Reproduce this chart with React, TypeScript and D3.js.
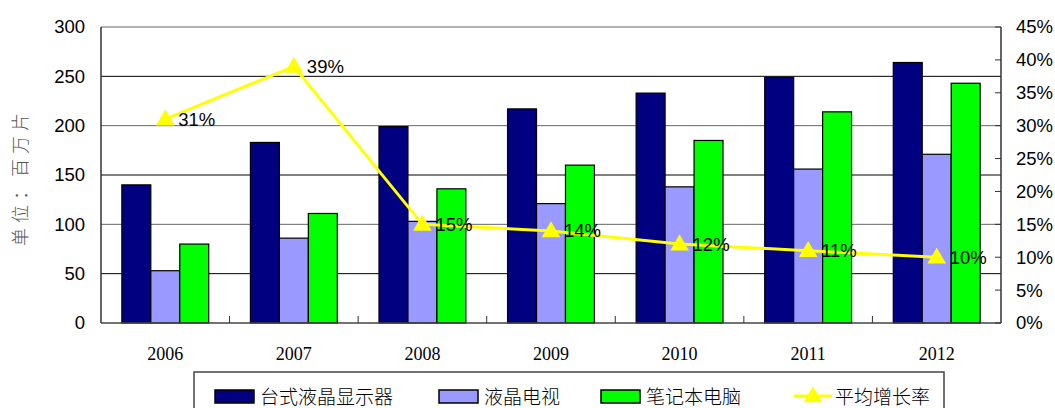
import React, { useEffect, useRef } from 'react';
import * as d3 from 'd3';

const years = ['2006', '2007', '2008', '2009', '2010', '2011', '2012'];
const seriesNames = ['台式液晶显示器', '液晶电视', '笔记本电脑'];
const desktopLcd = [140, 183, 199, 217, 233, 249, 264];
const lcdTv = [53, 86, 103, 121, 138, 156, 171];
const notebook = [80, 111, 136, 160, 185, 214, 243];
const growth = [31, 39, 15, 14, 12, 11, 10];
const lineName = '平均增长率';
const leftTicks = [0, 50, 100, 150, 200, 250, 300];
const rightTicks = [0, 5, 10, 15, 20, 25, 30, 35, 40, 45];

const colors = ['#000080', '#9999FF', '#00FF00'];

const App: React.FC = () => {
  const svgRef = useRef<SVGSVGElement>(null);

  useEffect(() => {
    if (!svgRef.current) return;
    const svg = d3.select(svgRef.current);
    svg.selectAll('*').remove();

    const left = 101, right = 1001, top = 27, bottom = 323;

    const x0 = d3.scaleBand().domain(years).range([left, right]).padding(0);
    const x1 = d3.scaleBand().domain(seriesNames).range([0, x0.bandwidth()])
      .paddingInner(0).paddingOuter(0.72);
    const y = d3.scaleLinear().domain([0, 300]).range([bottom, top]);
    const y2 = d3.scaleLinear().domain([0, 45]).range([bottom, top]);

    // gridlines
    svg.append('g').selectAll('line').data(leftTicks.slice(1)).enter().append('line')
      .attr('x1', left).attr('x2', right)
      .attr('y1', d => y(d)).attr('y2', d => y(d))
      .attr('stroke', (d, i) => (i % 2 === 0 ? '#000' : '#666'))
      .attr('stroke-width', 1);

    // bars
    const data = [desktopLcd, lcdTv, notebook];
    const bars = svg.append('g');
    years.forEach((yr, i) => {
      seriesNames.forEach((s, j) => {
        const v = data[j][i];
        bars.append('rect')
          .attr('x', (x0(yr) as number) + (x1(s) as number))
          .attr('y', y(v))
          .attr('width', x1.bandwidth())
          .attr('height', y(0) - y(v))
          .attr('fill', colors[j])
          .attr('stroke', '#000')
          .attr('stroke-width', 1.2);
      });
    });

    // axes lines
    svg.append('line').attr('x1', left).attr('x2', left).attr('y1', top).attr('y2', bottom)
      .attr('stroke', '#333').attr('stroke-width', 1.5);
    svg.append('line').attr('x1', right).attr('x2', right).attr('y1', top).attr('y2', bottom)
      .attr('stroke', '#333').attr('stroke-width', 1.5);
    svg.append('line').attr('x1', left).attr('x2', right).attr('y1', bottom).attr('y2', bottom)
      .attr('stroke', '#444').attr('stroke-width', 1.5);

    // right ticks
    svg.append('g').selectAll('line').data(rightTicks).enter().append('line')
      .attr('x1', right - 6).attr('x2', right)
      .attr('y1', d => y2(d)).attr('y2', d => y2(d))
      .attr('stroke', '#333');
    // bottom ticks
    svg.append('g').selectAll('line').data(years.slice(1)).enter().append('line')
      .attr('x1', d => x0(d) as number).attr('x2', d => x0(d) as number)
      .attr('y1', bottom - 7).attr('y2', bottom)
      .attr('stroke', '#333');

    // left labels
    svg.append('g').selectAll('text').data(leftTicks).enter().append('text')
      .attr('x', 85).attr('y', d => y(d)).attr('dy', '0.35em')
      .attr('text-anchor', 'end')
      .attr('font-family', 'Liberation Sans, Arial, sans-serif')
      .attr('font-size', 18.5).attr('fill', '#000')
      .text(d => String(d));
    // right labels
    svg.append('g').selectAll('text').data(rightTicks).enter().append('text')
      .attr('x', 1016).attr('y', d => y2(d)).attr('dy', '0.35em')
      .attr('font-family', 'Liberation Sans, Arial, sans-serif')
      .attr('font-size', 18.5).attr('fill', '#000')
      .text(d => `${d}%`);
    // x labels
    svg.append('g').selectAll('text').data(years).enter().append('text')
      .attr('x', d => (x0(d) as number) + x0.bandwidth() / 2).attr('y', 360)
      .attr('text-anchor', 'middle')
      .attr('font-family', 'Liberation Serif, Times New Roman, serif')
      .attr('font-size', 18).attr('fill', '#000')
      .text(d => d);

    // y title
    svg.append('text')
      .attr('transform', `translate(27,177) rotate(-90)`)
      .attr('text-anchor', 'middle')
      .attr('font-family', 'Noto Sans CJK SC, sans-serif')
      .attr('font-size', 18).attr('font-weight', 300)
      .attr('letter-spacing', 5)
      .attr('fill', '#555')
      .text('单位：百万片');

    // growth line
    const cx = (d: string) => (x0(d) as number) + x0.bandwidth() / 2;
    const line = d3.line<number>().x((d, i) => cx(years[i])).y(d => y2(d));
    svg.append('path').attr('d', line(growth) as string)
      .attr('fill', 'none').attr('stroke', '#FFFF00').attr('stroke-width', 3);
    const tri = d3.symbol().type(d3.symbolTriangle).size(150);
    svg.append('g').selectAll('path').data(growth).enter().append('path')
      .attr('d', tri() as string)
      .attr('transform', (d, i) => `translate(${cx(years[i])},${y2(d) + 1})`)
      .attr('fill', '#FFFF00');
    svg.append('g').selectAll('text').data(growth).enter().append('text')
      .attr('x', (d, i) => cx(years[i]) + 13).attr('y', d => y2(d)).attr('dy', '0.35em')
      .attr('font-family', 'Liberation Sans, Arial, sans-serif')
      .attr('font-size', 18.5).attr('fill', '#000')
      .text(d => `${d}%`);

    // legend
    const lg = svg.append('g');
    lg.append('rect').attr('x', 194).attr('y', 372).attr('width', 750).attr('height', 50)
      .attr('fill', '#fff').attr('stroke', '#444').attr('stroke-width', 1.5);
    const itemX = [215, 439, 601];
    seriesNames.forEach((s, j) => {
      lg.append('rect').attr('x', itemX[j]).attr('y', 390).attr('width', 39).attr('height', 13)
        .attr('fill', colors[j]).attr('stroke', '#000').attr('stroke-width', 1.5);
      lg.append('text').attr('x', itemX[j] + 45).attr('y', 397).attr('dy', '0.36em')
        .attr('font-family', 'Noto Sans CJK SC, sans-serif').attr('font-weight', 300)
        .attr('font-size', 19).attr('fill', '#000').text(s);
    });
    lg.append('line').attr('x1', 794).attr('x2', 832).attr('y1', 396).attr('y2', 396)
      .attr('stroke', '#FFFF00').attr('stroke-width', 3);
    lg.append('path').attr('d', tri() as string).attr('transform', 'translate(813,397)')
      .attr('fill', '#FFFF00');
    lg.append('text').attr('x', 835).attr('y', 397).attr('dy', '0.36em')
      .attr('font-family', 'Noto Sans CJK SC, sans-serif').attr('font-weight', 300)
      .attr('font-size', 19).attr('fill', '#000').text(lineName);
  }, []);

  return (
    <svg ref={svgRef} width={1055} height={408}
      style={{ position: 'absolute', left: 0, top: 0, background: '#fff' }} />
  );
};

export default App;
